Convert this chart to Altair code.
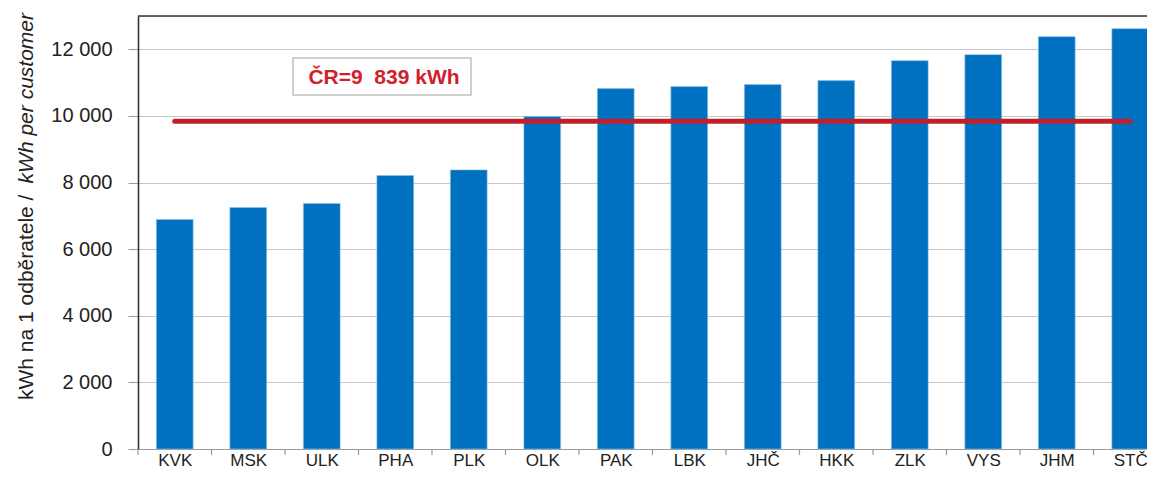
import json
import altair as alt
import pandas as pd

regions = ["KVK", "MSK", "ULK", "PHA", "PLK", "OLK", "PAK", "LBK", "JHČ", "HKK", "ZLK", "VYS", "JHM", "STČ"]
values = [6890, 7250, 7370, 8210, 8380, 9980, 10820, 10880, 10940, 11060, 11660, 11840, 12380, 12620]
cr_avg = 9839
cr_label = "ČR=9\u00a0 839 kWh"
y_ticks = [0, 2000, 4000, 6000, 8000, 10000, 12000]
title_regular = "kWh na 1 odběratele / "
title_italic = "kWh per customer"

idx = list(range(len(regions)))
df = pd.DataFrame({"idx": idx, "region": regions, "value": values})
avg_df = pd.DataFrame({"idx": [idx[0], idx[-1]], "value": [cr_avg, cr_avg]})
bounds_df = pd.DataFrame({"b": [i - 0.5 for i in range(len(regions) + 1)]})
one = pd.DataFrame({"label": [cr_label], "t1": [title_regular], "t2": [title_italic]})

W, H = 1009, 433
STEP = 73.5  # px per category in the reference (its plot area is cut off on the right)
FONT = "Liberation Sans"

xscale = alt.Scale(domain=[-0.5, -0.5 + W / STEP], nice=False, zero=False)
yscale = alt.Scale(domain=[0, 13000], nice=False)

label_expr = json.dumps(regions, ensure_ascii=False) + "[datum.value]"
x_axis = alt.Axis(title=None, labelAngle=0, values=idx, labelExpr=label_expr, ticks=False,
                  domainColor="#9a9a9a", labelPadding=3, labelFontSize=17,
                  labelColor="#222222", labelFont=FONT, grid=False)
y_axis = alt.Axis(title=None, values=y_ticks, grid=True, gridColor="#c8c8c8", gridWidth=1.2,
                  domainColor="#333333", domainWidth=1.6, tickColor="#9a9a9a", tickSize=10,
                  labelPadding=16, labelFontSize=20, labelColor="#222222", labelFont=FONT,
                  labelExpr="replace(format(datum.value, ',d'), ',', ' ')")

bars = alt.Chart(df).transform_calculate(
    x0="datum.idx - 0.25", x1="datum.idx + 0.25"
).mark_bar(color="#0070C0", stroke="#8ec0e8", strokeWidth=0.6, clip=False).encode(
    x=alt.X("x0:Q", scale=xscale, axis=x_axis),
    x2="x1:Q",
    y=alt.Y("value:Q", scale=yscale, axis=y_axis),
    y2=alt.datum(0),
)

x_ticks = alt.Chart(bounds_df).mark_rule(color="#9a9a9a", strokeWidth=1.2, clip=False).encode(
    x=alt.X("b:Q", scale=xscale), y=alt.value(H), y2=alt.value(H + 6)
)

avg_line = alt.Chart(avg_df).mark_line(color="#C0202A", strokeWidth=5, strokeCap="round",
                                       clip=False).encode(
    x=alt.X("idx:Q", scale=xscale),
    y=alt.Y("value:Q", scale=yscale),
)

box = alt.Chart(one).mark_rect(fill="white", stroke="#c0c0c0", strokeWidth=1.5).encode(
    x=alt.value(155), x2=alt.value(333), y=alt.value(42), y2=alt.value(79)
)
box_text = alt.Chart(one).mark_text(fontSize=21, fontWeight="bold", color="#D0202C", font=FONT,
                                    align="center", baseline="middle").encode(
    x=alt.value(246), y=alt.value(62), text="label:N"
)

top_frame = alt.Chart(one).mark_rule(color="#333333", strokeWidth=1.6, clip=False).encode(
    x=alt.value(0), x2=alt.value(W + 20), y=alt.value(0)
)

title1 = alt.Chart(one).mark_text(fontSize=21, color="#222222", font=FONT, angle=270,
                                  align="left", baseline="middle", clip=False).encode(
    x=alt.value(-111), y=alt.value(384), text="t1:N"
)
title2 = alt.Chart(one).mark_text(fontSize=21, color="#222222", font=FONT, angle=270,
                                  fontStyle="italic", align="right", baseline="middle",
                                  clip=False).encode(
    x=alt.value(-111), y=alt.value(-3), text="t2:N"
)

chart = alt.layer(bars, x_ticks, avg_line, box, box_text, top_frame, title1, title2).properties(
    width=W, height=H,
    autosize=alt.AutoSizeParams(type="none"),
    padding={"left": 130, "top": 8, "right": 0, "bottom": 20},
).configure_view(stroke=None).configure(font=FONT)

chart.save("out.html", embed_options={"renderer": "svg", "actions": False})
